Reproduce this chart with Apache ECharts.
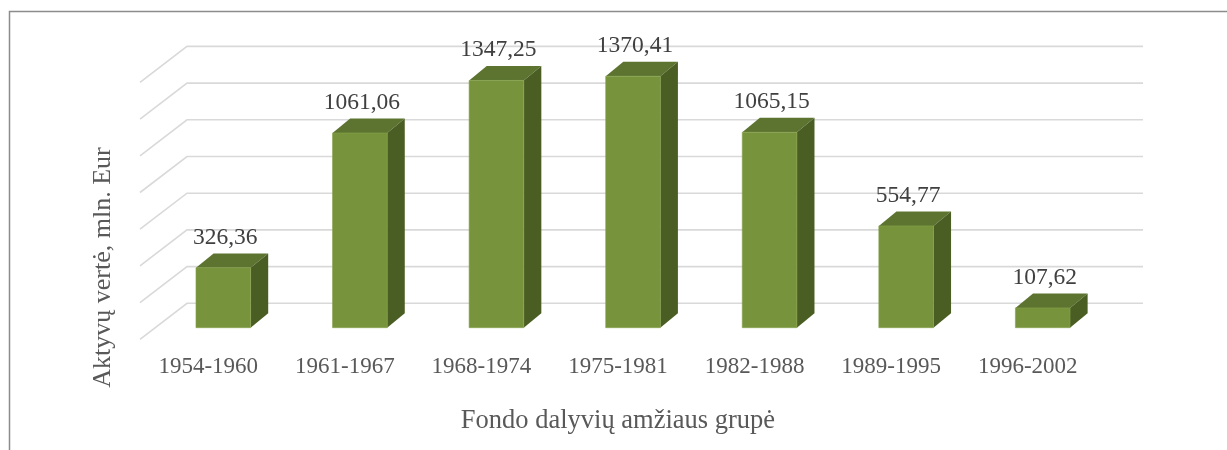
<!DOCTYPE html>
<html>
<head>
<meta charset="utf-8">
<script src="https://cdn.jsdelivr.net/npm/echarts@6/dist/echarts.min.js"></script>
<style>
html,body{margin:0;padding:0;background:#fff;}
#chart{width:1227px;height:450px;}
</style>
</head>
<body>
<div id="chart"></div>
<script>
// data
var categories = ['1954-1960', '1961-1967', '1968-1974', '1975-1981', '1982-1988', '1989-1995', '1996-2002'];
var values = [326.36, 1061.06, 1347.25, 1370.41, 1065.15, 554.77, 107.62];
var yTicks = [0, 200, 400, 600, 800, 1000, 1200, 1400];

// fake 3d: wall depth and bar depth in px
var WALL_DX = 47, WALL_DY = -36;
var BAR_FX = 15, BAR_FY = -11.6;     // front face of bar
var BAR_DX = 17.6, BAR_DY = -14.4;   // bar depth
var BAR_RATIO = 0.4;

var chart = echarts.init(document.getElementById('chart'));

function fmt(v){
    return v.toFixed(2).replace('.', ',');
}

function renderGrid(params, api){
    var v = api.value(1);
    var cs = params.coordSys;
    var y = api.coord([0, v])[1];
    return {
        type: 'polyline',
        shape: {points: [[cs.x, y], [cs.x + WALL_DX, y + WALL_DY], [cs.x + cs.width + WALL_DX, y + WALL_DY]]},
        style: {stroke: '#d9d9d9', lineWidth: 1.6, fill: null},
        silent: true
    };
}

function renderBar(params, api){
    var i = api.value(0), v = api.value(1);
    var base = api.coord([i, 0]);
    var top = api.coord([i, v]);
    var w = api.size([1, 0])[0] * BAR_RATIO;
    var x0 = base[0] - w / 2 + BAR_FX, x1 = x0 + w;
    var yb = base[1] + BAR_FY, yt = top[1] + BAR_FY;
    return {
        type: 'group',
        children: [
            {type: 'polygon', shape: {points: [[x0, yt], [x1, yt], [x1 + BAR_DX, yt + BAR_DY], [x0 + BAR_DX, yt + BAR_DY]]},
             style: {fill: '#5C7430'}},
            {type: 'polygon', shape: {points: [[x1, yt], [x1 + BAR_DX, yt + BAR_DY], [x1 + BAR_DX, yb + BAR_DY], [x1, yb]]},
             style: {fill: '#4A5E24'}},
            {type: 'rect', shape: {x: x0, y: yt, width: w, height: yb - yt},
             style: {fill: '#77933C', stroke: '#86a24a', lineWidth: 0.6}},
            {type: 'text', x: (x0 + x1) / 2 + 2, y: yt + BAR_DY - 4,
             style: {text: fmt(v), fill: '#404040', font: '23.5px "Liberation Serif", serif',
                     align: 'center', verticalAlign: 'bottom'}}
        ]
    };
}

var option = {
    animation: false,
    grid: {left: 140, right: 131, top: 82.4, bottom: 110.7},
    xAxis: {
        type: 'category',
        data: categories,
        axisLine: {show: false},
        axisTick: {show: false},
        axisLabel: {color: '#595959', fontSize: 23, fontFamily: '"Liberation Serif", serif', margin: 16},
        name: 'Fondo dalyvių amžiaus grupė',
        nameLocation: 'middle',
        nameGap: 68,
        nameTextStyle: {color: '#595959', fontSize: 26.5, fontFamily: '"Liberation Serif", serif'}
    },
    yAxis: {
        type: 'value',
        min: 0,
        max: 1400,
        interval: 200,
        show: false
    },
    graphic: [
        {type: 'polyline', shape: {points: [[9.5, 450], [9.5, 11.5], [1227, 11.5]]},
         style: {stroke: '#8c8c8c', lineWidth: 1.5, fill: null}},
        {type: 'text', x: 103, y: 267.5, rotation: Math.PI / 2,
         style: {text: 'Aktyvų vertė, mln. Eur', fill: '#595959', font: '26px "Liberation Serif", serif',
                 align: 'center', verticalAlign: 'middle'}}
    ],
    series: [
        {
            type: 'custom',
            renderItem: renderGrid,
            data: yTicks.map(function(t){ return [0, t]; }),
            clip: false,
            z: 1
        },
        {
            type: 'custom',
            renderItem: renderBar,
            data: values.map(function(v, i){ return [i, v]; }),
            clip: false,
            z: 2
        }
    ]
};
chart.setOption(option);
</script>
</body>
</html>
